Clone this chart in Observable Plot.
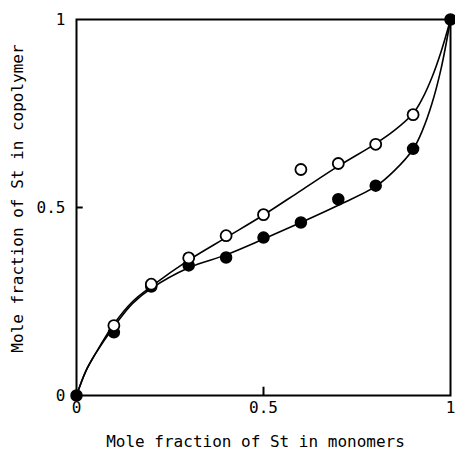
<!DOCTYPE html>
<html>
<head>
<meta charset="utf-8">
<script src="https://cdn.jsdelivr.net/npm/d3@7"></script>
<script src="https://cdn.jsdelivr.net/npm/@observablehq/plot@0.6"></script>
<style>
  html, body { margin: 0; padding: 0; background: #fff; }
</style>
</head>
<body>
<div id="chart"></div>
<script>
// Measured points (mole fraction of St in monomers -> in copolymer)
const fractions = [0.1, 0.2, 0.3, 0.4, 0.5, 0.6, 0.7, 0.8, 0.9];
const openCopolymer = [0.186, 0.296, 0.366, 0.425, 0.481, 0.601, 0.617, 0.668, 0.747];
const filledCopolymer = [0.168, 0.29, 0.346, 0.367, 0.42, 0.46, 0.522, 0.558, 0.656];
const endpointX = [0, 1];
const endpointY = [0, 1];

// Fitted curves
const curveX = [0, 0.025, 0.05, 0.1, 0.15, 0.2, 0.3, 0.4, 0.5, 0.6, 0.7, 0.8, 0.85, 0.9, 0.925, 0.95, 0.975, 1];
const openCurveY = [0, 0.065, 0.11, 0.19, 0.25, 0.29, 0.36, 0.42, 0.48, 0.545, 0.61, 0.67, 0.705, 0.75, 0.79, 0.845, 0.915, 1];
const filledCurveY = [0, 0.065, 0.11, 0.183, 0.245, 0.285, 0.34, 0.374, 0.416, 0.46, 0.506, 0.556, 0.598, 0.655, 0.705, 0.775, 0.87, 1];

const tickValues = [0, 0.5, 1];
const innerTicks = [0.5];
const xTitle = "Mole fraction of St in monomers";
const yTitle = "Mole fraction of St in copolymer";

const fmt = d => String(d);
const open = fractions.map((x, i) => ({x, y: openCopolymer[i]}));
const filled = fractions.map((x, i) => ({x, y: filledCopolymer[i]}));
const ends = endpointX.map((x, i) => ({x, y: endpointY[i]}));
const openCurve = curveX.map((x, i) => ({x, y: openCurveY[i]}));
const filledCurve = curveX.map((x, i) => ({x, y: filledCurveY[i]}));

const chart = Plot.plot({
  width: 455,
  height: 452,
  marginLeft: 76,
  marginRight: 5,
  marginTop: 19,
  marginBottom: 57,
  style: {fontFamily: "'DejaVu Sans Mono', monospace", fontSize: "16px", background: "#fff", color: "#000"},
  x: {domain: [0, 1]},
  y: {domain: [0, 1]},
  marks: [
    Plot.axisX({ticks: tickValues, tickSize: 0, tickPadding: 6, tickFormat: fmt, label: null}),
    Plot.axisY({ticks: tickValues, tickSize: 0, tickPadding: 11, tickFormat: fmt, label: null}),
    Plot.text([xTitle], {text: d => d, frameAnchor: "bottom", lineAnchor: "bottom", dy: 51, dx: -8, fill: "#000"}),
    Plot.text([yTitle], {text: d => d, frameAnchor: "left", textAnchor: "middle", rotate: -90, lineAnchor: "top", dx: -65, dy: -9, fill: "#000"}),
    Plot.ruleX(innerTicks, {y1: 0, y2: 0.022, stroke: "#000", strokeWidth: 2}),
    Plot.ruleY(innerTicks, {x1: 0, x2: 0.018, stroke: "#000", strokeWidth: 2}),
    Plot.line(openCurve, {x: "x", y: "y", curve: "catmull-rom", stroke: "#000", strokeWidth: 1.6}),
    Plot.line(filledCurve, {x: "x", y: "y", curve: "catmull-rom", stroke: "#000", strokeWidth: 1.6}),
    Plot.frame({stroke: "#000", strokeWidth: 2}),
    Plot.dot(filled, {x: "x", y: "y", r: 5.5, fill: "#000", stroke: "#000"}),
    Plot.dot(open, {x: "x", y: "y", r: 5.5, fill: "#fff", stroke: "#000", strokeWidth: 1.8}),
    Plot.dot(ends, {x: "x", y: "y", r: 5.5, fill: "#000", stroke: "#000"})
  ]
});
document.getElementById("chart").appendChild(chart);
</script>
</body>
</html>
